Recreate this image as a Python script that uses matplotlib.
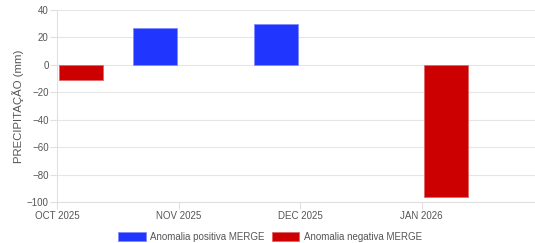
import matplotlib
matplotlib.use("Agg")
import matplotlib.pyplot as plt
import numpy as np

months = ["OCT 2025", "NOV 2025", "DEC 2025", "JAN 2026"]
positive = [None, 27.1, 29.6, None]
negative = [-10.9, None, None, -96.3]

plt.rcParams['font.family'] = ['Liberation Sans', 'DejaVu Sans']

fig = plt.figure(figsize=(5.35, 2.43), dpi=100)
ax = fig.add_axes([57/535, 1-202/243, 1-57/535, (202-10)/243])

x = np.arange(len(months))
width = 0.362
off = 0.197
pos_x = [xi - off for xi, v in zip(x, positive) if v is not None]
pos_v = [v for v in positive if v is not None]
neg_x = [xi + off for xi, v in zip(x, negative) if v is not None]
neg_v = [v for v in negative if v is not None]

ax.bar(pos_x, pos_v, width=width, color="#2036ff", edgecolor="#7f8cff", linewidth=0.6,
       label="Anomalia positiva MERGE", zorder=3)
ax.bar(neg_x, neg_v, width=width, color="#cc0000", edgecolor="#e06666", linewidth=0.6,
       label="Anomalia negativa MERGE", zorder=3)

ax.set_xlim(0, (535-57)/121.6)
ax.set_ylim(-100, 40)
ax.set_yticks(np.arange(-100, 41, 20))
ax.set_xticks(x)
ax.set_xticklabels(months)

ax.grid(axis='y', color="#e6e6e6", linewidth=0.8, zorder=0)
for s in ["top", "right"]:
    ax.spines[s].set_visible(False)
for s in ["left", "bottom"]:
    ax.spines[s].set_color("#e0e0e0")
    ax.spines[s].set_linewidth(0.8)

ax.tick_params(axis='both', colors="#e0e0e0", labelcolor="#555555", labelsize=7, length=5, width=0.8)
ax.tick_params(axis='x', pad=1.5)
ax.tick_params(axis='y', pad=1)
ax.set_ylabel("PRECIPITAÇÃO (mm)", color="#555555", fontsize=8.2, labelpad=2)

leg = fig.legend(loc="lower center", bbox_to_anchor=(0.505, -0.03), ncol=2, frameon=False,
                 fontsize=7, handlelength=2.8, handleheight=1.0, columnspacing=0.7,
                 handletextpad=0.5)
for t in leg.get_texts():
    t.set_color("#555555")

fig.savefig("out.png", dpi=100)
